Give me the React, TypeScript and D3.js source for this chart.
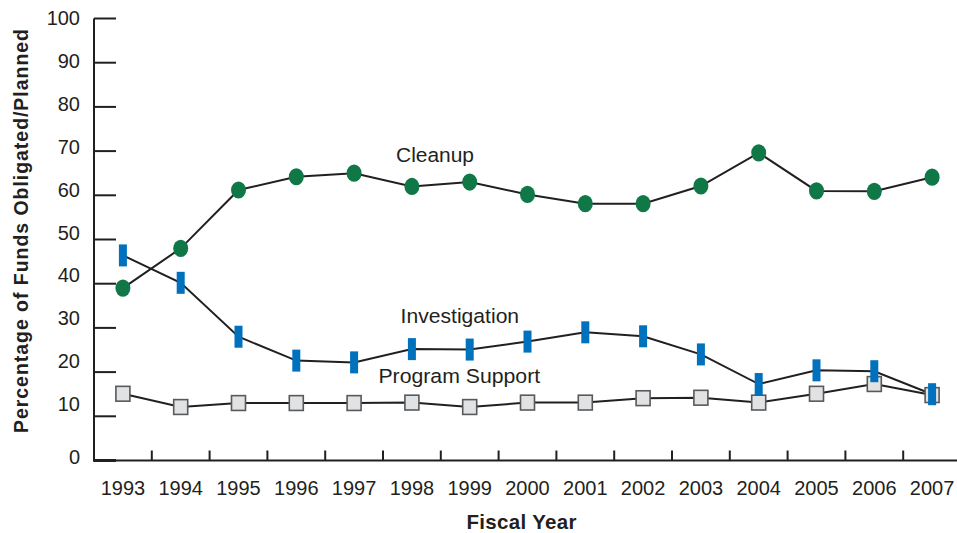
import React from "react";
import * as d3 from "d3";

const years = [1993, 1994, 1995, 1996, 1997, 1998, 1999, 2000, 2001, 2002, 2003, 2004, 2005, 2006, 2007];
const cleanup = [39, 48, 61.2, 64.2, 65, 62, 63, 60.2, 58.1, 58.1, 62.1, 69.6, 61, 60.9, 64.1];
const investigation = [46.4, 40.2, 28, 22.6, 22.2, 25.2, 25.1, 26.9, 29, 28.1, 24, 17.3, 20.4, 20.2, 15];
const programSupport = [15.1, 12.1, 13, 13, 13, 13.1, 12.1, 13.1, 13.1, 14.1, 14.2, 13.1, 15.1, 17.3, 14.8];
const yTicks = [0, 10, 20, 30, 40, 50, 60, 70, 80, 90, 100];
const seriesLabels = ["Cleanup", "Investigation", "Program Support"];
const labelYears = [1998.4, 1998.83, 1998.82];
const labelValues = [67.45, 31.2, 17.45];

const W = 957;
const H = 533;
const FONT = "'Liberation Sans', Arial, Helvetica, sans-serif";
const INK = "#231f20";
const labelStyle: Record<string, { textLength: number }> = {
  Cleanup: { textLength: 78 },
  Investigation: { textLength: 118.5 },
  "Program Support": { textLength: 161.7 },
};

export default function App() {
  const x = d3.scaleBand<number>().domain(years).range([94, 94 + 57.8 * 15]).padding(0);
  const bw = x.bandwidth();
  const cx = (yr: number) => (x(yr) as number) + bw / 2;
  const y = d3.scaleLinear().domain([0, 100]).range([460.5, 18.5]);
  const yLab = d3.scaleLinear().domain([0, 10, 100]).range([457, 404, 18.3]);
  const xCont = d3.scaleLinear().domain([1993, 2007]).range([cx(1993), cx(2007)]);

  const line = (vals: number[]) =>
    d3.line<number>().x((_, i) => cx(years[i])).y((v) => y(v))(vals) || "";

  return (
    <svg width={W} height={H} style={{ position: "absolute", left: 0, top: 0, background: "#fff" }}>
      {/* axes */}
      <line x1={94} x2={94} y1={y(100)} y2={y(0) + 1} stroke={INK} strokeWidth={2} />
      <line x1={93} x2={W} y1={y(0)} y2={y(0)} stroke={INK} strokeWidth={2} />
      {yTicks.map((t) => (
        <g key={t}>
          <line x1={94} x2={116} y1={y(t)} y2={y(t)} stroke={INK} strokeWidth={t === 0 ? 3 : 2} />
          <text
            x={80}
            y={yLab(t)}
            textAnchor="end"
            dominantBaseline="central"
            fontFamily={FONT}
            fontSize={20}
            fill={INK}
          >
            {t}
          </text>
        </g>
      ))}
      {years.slice(1).map((yr) => (
        <line key={yr} x1={x(yr)} x2={x(yr)} y1={y(0)} y2={y(0) - 10} stroke={INK} strokeWidth={2} />
      ))}
      {years.map((yr) => (
        <text key={yr} x={cx(yr)} y={495} textAnchor="middle" fontFamily={FONT} fontSize={20} fill={INK}>
          {yr}
        </text>
      ))}
      <text
        x={521.5}
        y={529}
        textAnchor="middle"
        fontFamily={FONT}
        fontSize={20.5}
        fontWeight="bold"
        fill={INK}
        textLength={110}
        lengthAdjust="spacing"
      >
        Fiscal Year
      </text>
      <text
        transform={`translate(28,231) rotate(-90)`}
        textAnchor="middle"
        fontFamily={FONT}
        fontSize={19.5}
        fontWeight="bold"
        fill={INK}
        textLength={404}
        lengthAdjust="spacing"
      >
        Percentage of Funds Obligated/Planned
      </text>

      {/* lines */}
      <path d={line(programSupport)} fill="none" stroke={INK} strokeWidth={2} />
      <path d={line(cleanup)} fill="none" stroke={INK} strokeWidth={2} />
      <path d={line(investigation)} fill="none" stroke={INK} strokeWidth={2} />

      {/* markers */}
      {programSupport.map((v, i) => (
        <rect
          key={"p" + i}
          x={cx(years[i]) - 7}
          y={y(v) - 7.4}
          width={14}
          height={14.8}
          fill="#e1e2e4"
          stroke="#58595b"
          strokeWidth={1.6}
        />
      ))}
      {cleanup.map((v, i) => (
        <ellipse key={"c" + i} cx={cx(years[i])} cy={y(v)} rx={7.5} ry={8.6} fill="#107747" />
      ))}
      {investigation.map((v, i) => (
        <rect key={"i" + i} x={cx(years[i]) - 4} y={y(v) - 11} width={8} height={22} fill="#0071bc" />
      ))}

      {/* series labels */}
      {seriesLabels.map((s, i) => (
        <text
          key={s}
          x={xCont(labelYears[i])}
          y={y(labelValues[i])}
          textAnchor="middle"
          fontFamily={FONT}
          fontSize={20.5}
          fill={INK}
          textLength={labelStyle[s].textLength}
          lengthAdjust="spacingAndGlyphs"
        >
          {s}
        </text>
      ))}
    </svg>
  );
}
